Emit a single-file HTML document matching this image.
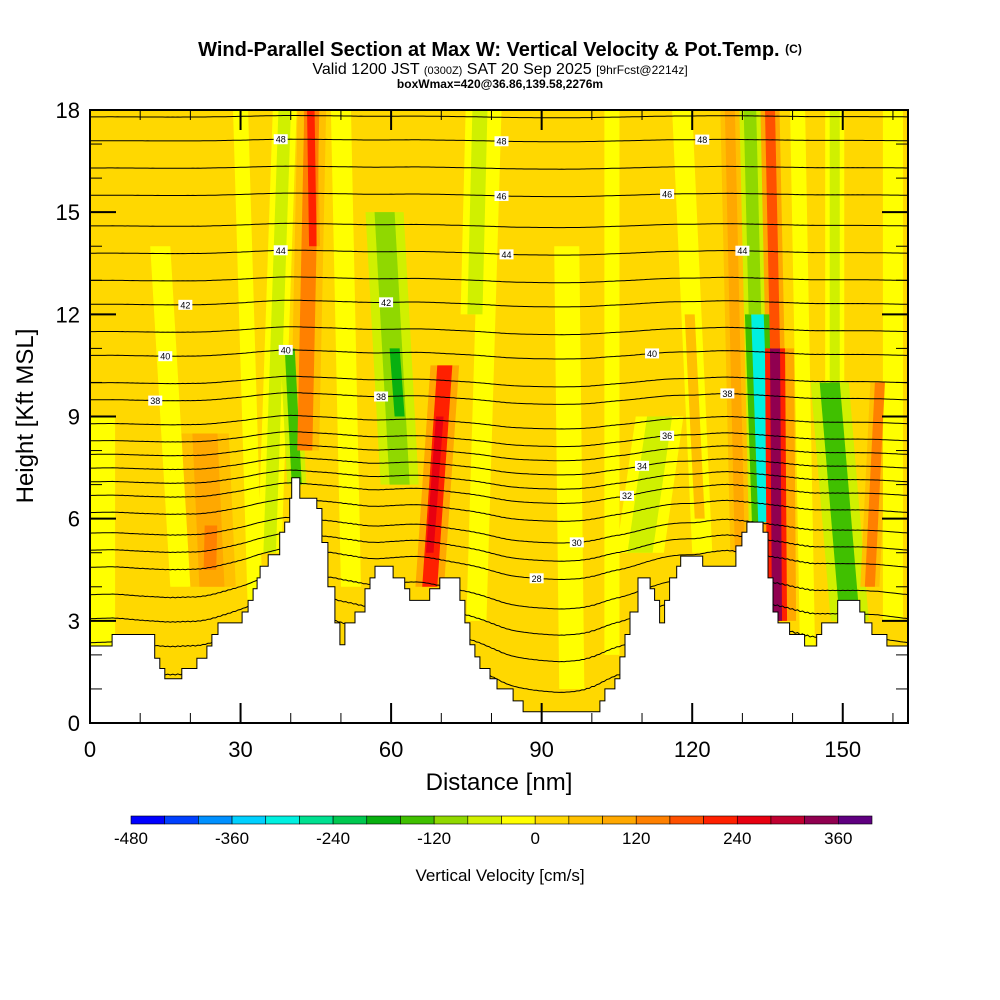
<!DOCTYPE html>
<html><head><meta charset="utf-8"><style>
body{margin:0;background:#fff;width:1000px;height:1000px;overflow:hidden;font-family:"Liberation Sans",sans-serif}
svg{position:absolute;left:0;top:0}
</style></head><body>
<svg id="chart" width="1000" height="1000">
<text x="500" y="56" text-anchor="middle" font-size="20" font-weight="bold">Wind-Parallel Section at Max W: Vertical Velocity &amp; Pot.Temp. <tspan font-size="12" dy="-3">(C)</tspan></text>
<text x="500" y="74" text-anchor="middle" font-size="16">Valid 1200 JST <tspan font-size="11">(0300Z)</tspan> SAT 20 Sep 2025 <tspan font-size="12">[9hrFcst@2214z]</tspan></text>
<text x="500" y="88" text-anchor="middle" font-size="12" font-weight="bold">boxWmax=420@36.86,139.58,2276m</text>
<defs><clipPath id="plotclip"><rect x="90" y="110" width="818" height="613"/></clipPath></defs>
<g id="plot" clip-path="url(#plotclip)"></g>
<g id="axes"></g>
<g id="cbar"></g>
</svg>
<script>
// ---- data ----
const terrX = [0,4.4,12.9,13.9,14.9,18.3,21.3,23.3,24.3,25.5,30.3,31.5,32.5,33.3,33.9,35.5,37.8,38.8,39.8,40.2,41.8,45.2,46.2,47.4,48.8,49.8,50.8,52.8,54.8,55.8,56.8,60.4,62.7,63.7,67.7,69.7,73.7,74.7,75.7,76.7,77.7,79.7,81.1,84.3,86.3,101.6,102.6,104.6,105.6,106.6,107.6,109.2,111.6,112.5,113.5,114.5,115.5,116.9,117.7,122.1,128.7,129.9,130.9,134.1,135.1,136.1,137.1,139.4,142.4,144.8,145.8,149,153.4,154.4,155.8,158.8];
const terrH = [2.26,2.6,1.9,1.6,1.3,1.6,1.9,2.26,2.6,2.94,3.26,3.6,3.94,4.26,4.6,4.94,5.6,5.9,6.6,7.2,6.6,6.3,5.3,4.0,2.94,2.3,2.94,3.26,3.94,4.26,4.6,4.26,3.94,3.6,3.94,4.26,3.6,2.94,2.3,1.94,1.6,1.3,1.0,0.65,0.33,0.65,1.0,1.3,1.94,2.6,3.26,4.26,3.94,3.6,2.94,3.6,4.26,4.6,4.9,4.6,5.2,5.6,5.9,5.6,4.26,3.26,2.94,2.6,2.26,2.6,2.94,3.6,3.26,2.94,2.6,2.26];
const thetaLevels = [24,25,26,27,28,29,30,31,32,33,34,35,36,37,38,39,40,41,42,43,44,45,46,47,48,49,50];
const thetaBaseH  = [1.6,2.4,3.1,3.8,4.6,5.1,5.6,6.2,6.7,7.1,7.5,7.9,8.3,8.8,9.5,10.0,10.8,11.5,12.3,13.0,13.8,14.6,15.5,16.3,17.1,17.8,18.6];
// streaks: bottom distance/height, top distance/height, width (nm), w value (cm/s)
const strX0 = [2,18,33,52,77,96,104,122,143,160, 24.3,23.9,35.8,41.2,42.8,44.4,61.7,61.7,67.7,67.7,76.7,109.6,134.4,134.4,132.5,136.9,136.9,136.5,151.4,148.4,129.5,121.5,155.4];
const strH0 = [2,4,3,4,3,1,2,5,2,3, 4.0,4.5,5.0,7.0,8.0,14.0,7.0,9.0,4.0,5.0,12.0,5.0,5.9,5.9,12.0,3.0,3.0,11.0,3.0,10.0,5.0,6.0,4.0];
const strX1 = [2,14,30,50,80,95,104,118,141,160, 22.9,24.1,38.8,39.8,44.2,44.0,58.7,60.7,70.7,69.7,77.7,113.5,133.0,133.0,131.5,136.5,136.5,135.5,147.4,148.4,127.5,119.5,157.4];
const strH1 = [9,14,18,18,18,14,18,18,18,18, 8.5,5.8,18.0,11.0,18.0,18.0,15.0,11.0,10.5,9.0,18.0,9.0,12.0,12.0,18.0,11.0,11.0,18.0,10.0,18.0,18.0,12.0,10.0];
const strW  = [6,4,3,4,4,5,3,4,3,4, 5.0,2.5,2.5,2.0,3.0,1.5,4.0,2.0,3.0,1.5,3.0,5.0,5.0,2.5,2.5,4.0,2.0,2.0,4.0,2.0,2.0,2.0,2.0];
const strV  = [-20,-20,-20,-20,-20,-20,-20,-20,-20,-20, 100,140,-80,-150,140,200,-110,-170,200,260,-60,-70,-150,-320,-100,200,330,180,-150,-80,100,60,120];
const cbBounds = [-480,-440,-400,-360,-320,-280,-240,-200,-160,-120,-80,-40,0,40,80,120,160,200,240,280,320,360,400];
const cbColors = ["#0000ff","#0040ff","#0090ff","#00d0ff","#00f0e0","#00e090","#00c850","#08b010","#40c000","#90d800","#d0f000","#ffff00","#ffd800","#ffc000","#ffa800","#ff8000","#ff5000","#ff2000","#e80010","#c00030","#900050","#600080"];
const cbTicks = [-480,-360,-240,-120,0,120,240,360];
const labTheta = [28,30,32,34,36,38,38,40,40,42,42,44,44,46,46,48,48,38,40,44,48];
const labX     = [89,97,107,110,115,13,58,15,112,19,59,38,83,115,82,82,122,127,39,130,38];
// ---- scales ----
const X0=90,X1=908,Y0=723,Y1=110,XMAX=163,YMAX=18;
const sx=d=>X0+(d/XMAX)*(X1-X0);
const sy=h=>Y0-(h/YMAX)*(Y0-Y1);
const NS='http://www.w3.org/2000/svg';
function mk(t,a,p){const e=document.createElementNS(NS,t);for(const k in a)e.setAttribute(k,a[k]);p.appendChild(e);return e;}
function colorOf(v){for(let i=0;i<cbColors.length;i++){if(v<cbBounds[i+1])return cbColors[i];}return cbColors[cbColors.length-1];}
function terrAt(d){let h=terrH[0];for(let i=0;i<terrX.length;i++){if(d>=terrX[i])h=terrH[i];}return h;}
function terrSmooth(d){let s=0,n=0;for(let k=-8;k<=8;k+=1){s+=terrAt(Math.min(XMAX,Math.max(0,d+k)));n++;}return s/n;}
function thetaH(i,d){const hb=thetaBaseH[i];return hb+0.45*(terrSmooth(d)-2.5)*Math.exp(-hb/5);}
const plot=document.getElementById('plot');
const bg=mk('rect',{x:X0,y:Y1,width:X1-X0,height:Y0-Y1,fill:'#ffd800'},plot);


function streakPoly(i,scale,val){
  const hw=strW[i]*scale/2;
  const pts=[[sx(strX0[i]-hw),sy(strH0[i])],[sx(strX0[i]+hw),sy(strH0[i])],[sx(strX1[i]+hw),sy(strH1[i])],[sx(strX1[i]-hw),sy(strH1[i])]];
  const p=mk('polygon',{points:pts.map(q=>q.join(',')).join(' '),fill:colorOf(val)},plot);
  
  
}
// halos first, then cores
for(let i=0;i<strV.length;i++){ if(Math.abs(strV[i])>=60) streakPoly(i,1.9,strV[i]*0.45); }
for(let i=0;i<strV.length;i++){ streakPoly(i,1,strV[i]); }
// contours
for(let i=0;i<thetaLevels.length;i++){
  let d='';
  for(let x=0;x<=XMAX;x+=0.5){d+=(x===0?'M':'L')+sx(x).toFixed(1)+','+sy(thetaH(i,x)).toFixed(1);}
  const c=mk('path',{d:d,fill:'none',stroke:'#000','stroke-width':1},plot);
  
  
}
// terrain
let td='M'+X0+','+Y0;
for(let i=0;i<terrX.length;i++){td+=' L'+sx(terrX[i]).toFixed(1)+','+(i?sy(terrH[i-1]).toFixed(1):sy(terrH[0]).toFixed(1))+' L'+sx(terrX[i]).toFixed(1)+','+sy(terrH[i]).toFixed(1);}
td+=' L'+X1+','+sy(terrH[terrH.length-1]).toFixed(1)+' L'+X1+','+Y0+' Z';
const tr=mk('path',{d:td,fill:'#fff',stroke:'#000','stroke-width':1},plot);


// contour labels
for(let j=0;j<labTheta.length;j++){
  const i=thetaLevels.indexOf(labTheta[j]);const x=sx(labX[j]),y=sy(thetaH(i,labX[j]));
  const g=mk('g',{},plot);
  
  
  mk('rect',{x:x-7,y:y-5,width:14,height:10,fill:'#fff'},g);
  const t=mk('text',{x:x,y:y+3.5,'font-size':9,'text-anchor':'middle'},g);t.textContent=labTheta[j];
}
// axes
const ax=document.getElementById('axes');


mk('rect',{x:X0,y:Y1,width:X1-X0,height:Y0-Y1,fill:'none',stroke:'#000','stroke-width':2},ax);
for(let d=0;d<=XMAX;d+=10){const maj=d%30===0;const L=maj?20:10;
  mk('line',{x1:sx(d),x2:sx(d),y1:Y0,y2:Y0-L,stroke:'#000','stroke-width':maj?2:1},ax);
  mk('line',{x1:sx(d),x2:sx(d),y1:Y1,y2:Y1+L,stroke:'#000','stroke-width':maj?2:1},ax);
  if(maj){const t=mk('text',{x:sx(d),y:757,'font-size':22,'text-anchor':'middle'},ax);t.textContent=d;
  }}
for(let h=0;h<=YMAX;h+=1){const maj=h%3===0;const L=maj?26:12;
  mk('line',{x1:X0,x2:X0+L,y1:sy(h),y2:sy(h),stroke:'#000','stroke-width':maj?2:1},ax);
  mk('line',{x1:X1,x2:X1-L,y1:sy(h),y2:sy(h),stroke:'#000','stroke-width':maj?2:1},ax);
  if(maj){const t=mk('text',{x:80,y:sy(h)+8,'font-size':22,'text-anchor':'end'},ax);t.textContent=h;
  }}
const xt=mk('text',{x:499,y:790,'font-size':24,'text-anchor':'middle'},ax);xt.textContent='Distance [nm]';

const yt=mk('text',{x:33,y:416,'font-size':24,'text-anchor':'middle',transform:'rotate(-90 33 416)'},ax);yt.textContent='Height [Kft MSL]';

// colorbar
const cb=document.getElementById('cbar');


const CB0=131,CB1=872,cbx=v=>CB0+(v-cbBounds[0])/(cbBounds[cbBounds.length-1]-cbBounds[0])*(CB1-CB0);
for(let i=0;i<cbColors.length;i++){const r=mk('rect',{x:cbx(cbBounds[i]),y:816,width:cbx(cbBounds[i+1])-cbx(cbBounds[i]),height:8,fill:cbColors[i],stroke:'#000','stroke-width':0.6},cb);
 }
for(const v of cbTicks){const t=mk('text',{x:cbx(v),y:844,'font-size':17,'text-anchor':'middle'},cb);t.textContent=v;
 }
const ct=mk('text',{x:500,y:881,'font-size':17,'text-anchor':'middle'},cb);ct.textContent='Vertical Velocity [cm/s]';

</script>
</body></html>
